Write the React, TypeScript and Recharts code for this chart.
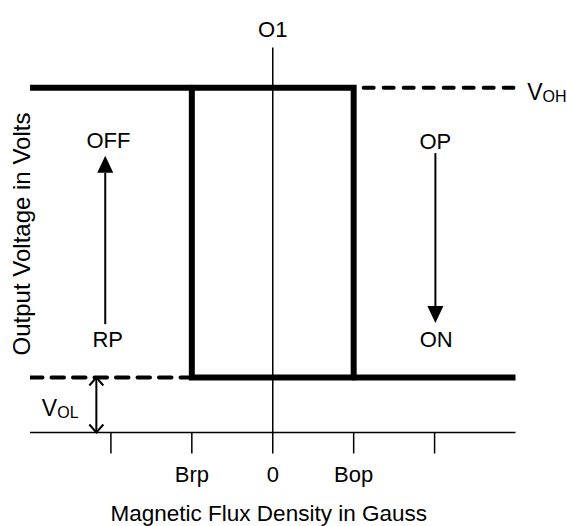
import React from 'react';
import {
  ComposedChart,
  Line,
  XAxis,
  YAxis,
  ReferenceLine,
  ReferenceDot,
} from 'recharts';

// field axis (Gauss, arbitrary units) – Brp at -1, Bop at +1
const fieldTicks = [-2, -1, 0, 1, 2];
const tickLabels = ['', 'Brp', '0', 'Bop', ''];

// hysteresis loop, output voltage (VOH high, VOL low)
const upperBranch = [
  { x: -3, y: 6.27 },
  { x: 1, y: 6.27 },
  { x: 1, y: 1 },
];
const lowerBranch = [
  { x: -1, y: 6.27 },
  { x: -1, y: 1 },
  { x: 3, y: 1 },
];
const vohGuide = [
  { x: 1, y: 6.27 },
  { x: 3, y: 6.27 },
];
const volGuide = [
  { x: -3, y: 1 },
  { x: -1, y: 1 },
];

// direction arrows
const arrows = [
  { x: -2.07, from: 1.97, to: 5.03, kind: 'filled' },
  { x: 2.01, from: 5.08, to: 1.99, kind: 'filled' },
  { x: -2.18, from: 1, to: 0, kind: 'double' },
];

// text annotations (data coords of the text baseline)
const annotations = [
  { x: -2.03, y: 5.17, main: 'OFF', sub: '', anchor: 'middle' },
  { x: -2.04, y: 1.56, main: 'RP', sub: '', anchor: 'middle' },
  { x: 2.01, y: 5.15, main: 'OP', sub: '', anchor: 'middle' },
  { x: 2.02, y: 1.56, main: 'ON', sub: '', anchor: 'middle' },
  { x: 0, y: 7.19, main: 'O1', sub: '', anchor: 'middle' },
  { x: 3.145, y: 6.04, main: 'V', sub: 'OH', anchor: 'start' },
  { x: -2.4, y: 0.3, main: 'V', sub: 'OL', anchor: 'end' },
];

const FONT = "'Liberation Sans', Arial, Helvetica, sans-serif";

const FilledArrow = (p: any) => {
  const { x1, y1, x2, y2 } = p;
  const len = Math.hypot(x2 - x1, y2 - y1);
  const ux = (x2 - x1) / len;
  const uy = (y2 - y1) / len;
  const hl = 17;
  const hw = 8;
  const bx = x2 - ux * hl;
  const by = y2 - uy * hl;
  return (
    <g>
      <line x1={x1} y1={y1} x2={bx} y2={by} stroke="#000" strokeWidth={2} />
      <polygon
        points={`${x2},${y2} ${bx - uy * hw},${by + ux * hw} ${bx + uy * hw},${by - ux * hw}`}
        fill="#000"
      />
    </g>
  );
};

const DoubleArrow = (p: any) => {
  const { x1, y1, x2, y2 } = p;
  const len = Math.hypot(x2 - x1, y2 - y1);
  const ux = (x2 - x1) / len;
  const uy = (y2 - y1) / len;
  const hl = 8;
  const hw = 7;
  const head = (tx: number, ty: number, dx: number, dy: number) => {
    const bx = tx - dx * hl;
    const by = ty - dy * hl;
    return `${bx - dy * hw},${by + dx * hw} ${tx},${ty} ${bx + dy * hw},${by - dx * hw}`;
  };
  return (
    <g fill="none" stroke="#000" strokeWidth={2}>
      <line x1={x1} y1={y1} x2={x2} y2={y2} />
      <polyline points={head(x2, y2, ux, uy)} />
      <polyline points={head(x1, y1, -ux, -uy)} />
    </g>
  );
};

const XTitle = ({ viewBox }: any) => {
  const { x, y, width, height } = viewBox;
  return (
    <text x={x + width / 2 - 4} y={y + height - 5} textAnchor="middle" fontSize={22.5} fontFamily={FONT} fill="#000">
      Magnetic Flux Density in Gauss
    </text>
  );
};

const YTitle = ({ viewBox }: any) => {
  const { x, y, height } = viewBox;
  const cx = x + 21;
  const cy = y + height / 2 - 6;
  return (
    <text
      x={cx}
      y={cy}
      dy="0.355em"
      transform={`rotate(-90, ${cx}, ${cy})`}
      textAnchor="middle"
      fontSize={24}
      fontFamily={FONT}
      fill="#000"
    >
      Output Voltage in Volts
    </text>
  );
};

export default function App() {
  return (
    <div style={{ position: 'absolute', left: 0, top: 0, background: '#fff' }}>
      <ComposedChart width={567} height={526} margin={{ top: 47.5, right: 51.5, bottom: 0, left: 0 }}>
        <XAxis
          type="number"
          dataKey="x"
          domain={[-3, 3]}
          allowDataOverflow
          ticks={fieldTicks}
          interval={0}
          tickFormatter={(v: number) => tickLabels[fieldTicks.indexOf(v)] ?? ''}
          tickSize={21}
          tickMargin={13}
          height={93.5}
          axisLine={{ stroke: '#000', strokeWidth: 1.5 }}
          tickLine={{ stroke: '#000', strokeWidth: 1.5 }}
          tick={{ fill: '#000', fontSize: 22, fontFamily: FONT }}
          label={<XTitle />}
        />
        <YAxis
          type="number"
          dataKey="y"
          domain={[0, 7]}
          allowDataOverflow
          width={30}
          axisLine={false}
          tickLine={false}
          tick={false}
          label={<YTitle />}
        />
        <ReferenceLine x={0} stroke="#000" strokeWidth={1.5} />

        <Line
          data={volGuide}
          dataKey="y"
          type="linear"
          stroke="#000"
          strokeWidth={4}
          strokeDasharray="12.5 9"
          strokeLinecap="round"
          dot={false}
          activeDot={false}
          isAnimationActive={false}
        />
        <Line
          data={vohGuide}
          dataKey="y"
          type="linear"
          stroke="#000"
          strokeWidth={4}
          strokeDasharray="10 10"
          strokeDashoffset={10}
          strokeLinecap="round"
          dot={false}
          activeDot={false}
          isAnimationActive={false}
        />
        <Line
          data={upperBranch}
          dataKey="y"
          type="linear"
          stroke="#000"
          strokeWidth={6}
          strokeLinecap="round"
          strokeLinejoin="miter"
          dot={false}
          activeDot={false}
          isAnimationActive={false}
        />
        <Line
          data={lowerBranch}
          dataKey="y"
          type="linear"
          stroke="#000"
          strokeWidth={6}
          strokeLinecap="round"
          strokeLinejoin="miter"
          dot={false}
          activeDot={false}
          isAnimationActive={false}
        />

        {arrows.map((a, i) => (
          <ReferenceLine
            key={`arrow-${i}`}
            segment={[
              { x: a.x, y: a.from },
              { x: a.x, y: a.to },
            ]}
            ifOverflow="visible"
            shape={a.kind === 'filled' ? FilledArrow : DoubleArrow}
          />
        ))}

        {annotations.map((t, i) => (
          <ReferenceDot
            key={`note-${i}`}
            x={t.x}
            y={t.y}
            ifOverflow="visible"
            shape={(p: any) => (
              <text
                x={p.cx}
                y={p.cy}
                textAnchor={t.anchor}
                fontSize={t.sub ? 23 : 22}
                fontFamily={FONT}
                fill="#000"
              >
                {t.main}
                {t.sub ? <tspan fontSize={16} dy={2}>{t.sub}</tspan> : null}
              </text>
            )}
          />
        ))}
      </ComposedChart>
    </div>
  );
}
